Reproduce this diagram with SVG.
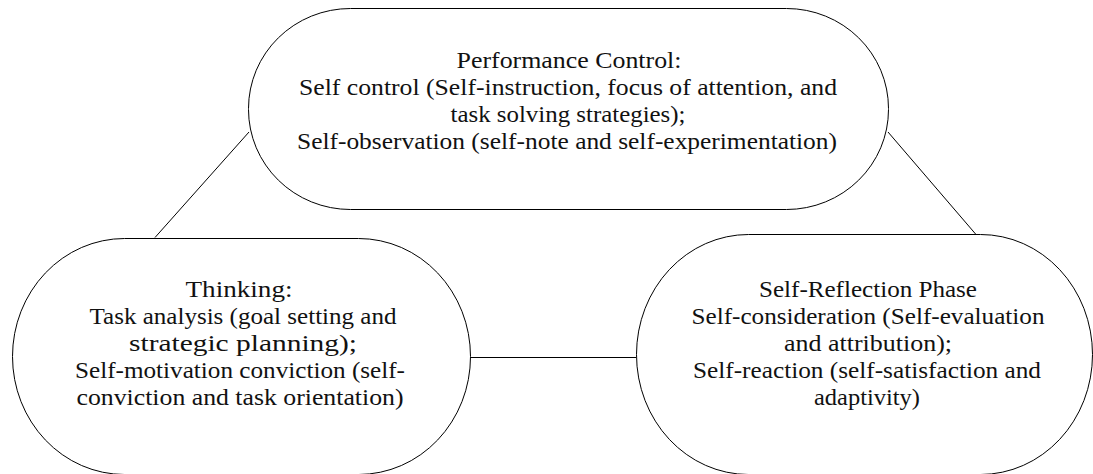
<svg xmlns="http://www.w3.org/2000/svg" width="1093" height="474" viewBox="0 0 1093 474">
<style>
.shape{fill:#fff;stroke:#000;stroke-width:1}
.conn{stroke:#000;stroke-width:1;fill:none}
.t{font-family:"Liberation Serif","Times New Roman",Times,"Noto Serif","DejaVu Serif",FreeSerif,Georgia,serif;font-size:23px;fill:#111;text-anchor:middle}
</style>
<rect width="1093" height="474" fill="#fff"/>
<g id="connectors">
<line class="conn" x1="155" y1="237.5" x2="249" y2="132"/>
<line class="conn" x1="888" y1="132" x2="976" y2="234.5"/>
<line class="conn" x1="470" y1="357.5" x2="636" y2="357.5"/>
</g>
<g id="performance">
<rect class="shape" x="248.5" y="8.5" width="640" height="201" rx="102" ry="100"/>
<text class="t" x="569" y="68" textLength="225" lengthAdjust="spacingAndGlyphs">Performance Control:</text>
<text class="t" x="568" y="95" textLength="538" lengthAdjust="spacingAndGlyphs">Self control (Self-instruction, focus of attention, and</text>
<text class="t" x="568" y="122" textLength="235" lengthAdjust="spacingAndGlyphs">task solving strategies);</text>
<text class="t" x="567" y="149" textLength="540" lengthAdjust="spacingAndGlyphs">Self-observation (self-note and self-experimentation)</text>
</g>
<g id="thinking">
<rect class="shape" x="12.5" y="238.5" width="458" height="236" rx="112" ry="118"/>
<text class="t" x="239" y="297" textLength="107" lengthAdjust="spacingAndGlyphs">Thinking:</text>
<text class="t" x="243" y="324" textLength="307" lengthAdjust="spacingAndGlyphs">Task analysis (goal setting and</text>
<text class="t" x="243" y="351" textLength="228" lengthAdjust="spacingAndGlyphs">strategic planning);</text>
<text class="t" x="240" y="378" textLength="330" lengthAdjust="spacingAndGlyphs">Self-motivation conviction (self-</text>
<text class="t" x="240" y="405" textLength="327" lengthAdjust="spacingAndGlyphs">conviction and task orientation)</text>
</g>
<g id="reflection">
<rect class="shape" x="636.5" y="234.5" width="456" height="240" rx="112" ry="120"/>
<text class="t" x="868" y="297" textLength="218" lengthAdjust="spacingAndGlyphs">Self-Reflection Phase</text>
<text class="t" x="868" y="324" textLength="353" lengthAdjust="spacingAndGlyphs">Self-consideration (Self-evaluation</text>
<text class="t" x="868" y="351" textLength="168" lengthAdjust="spacingAndGlyphs">and attribution);</text>
<text class="t" x="867" y="378" textLength="348" lengthAdjust="spacingAndGlyphs">Self-reaction (self-satisfaction and</text>
<text class="t" x="867" y="405" textLength="106" lengthAdjust="spacingAndGlyphs">adaptivity)</text>
</g>
</svg>
